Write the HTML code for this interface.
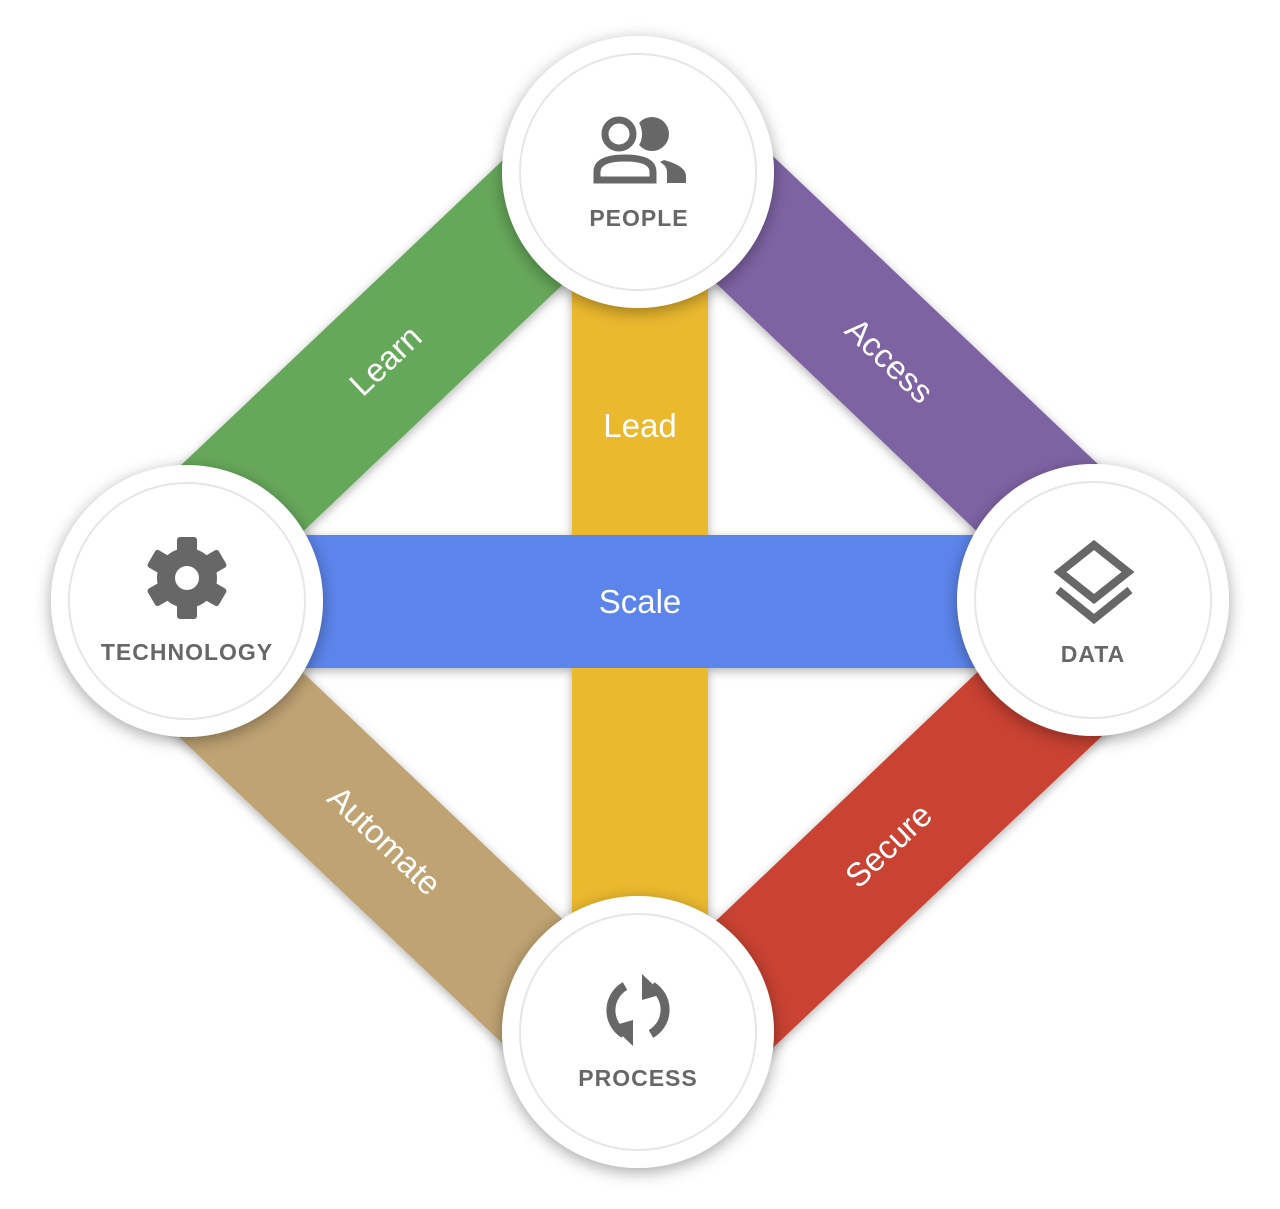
<!DOCTYPE html>
<html><head><style>
html,body{margin:0;padding:0;background:#fff;}
svg{display:block;}
text{font-family:"Liberation Sans",sans-serif;}
</style></head><body>
<svg width="1280" height="1209" viewBox="0 0 1280 1209" xmlns="http://www.w3.org/2000/svg">
<defs>
<filter id="sh" x="-30%" y="-30%" width="160%" height="160%">
<feDropShadow dx="0" dy="4" stdDeviation="8" flood-color="#000" flood-opacity="0.35"/>
</filter>
<filter id="sb" x="-30%" y="-30%" width="160%" height="160%">
<feDropShadow dx="0" dy="3" stdDeviation="5" flood-color="#000" flood-opacity="0.3"/>
</filter>
</defs>
<g filter="url(#sb)">
<polygon points="160,485 540,125 600,249 230,601" fill="#66a85a"/>
<polygon points="1120,485 740,125 680,249 1050,601" fill="#7e63a3"/>
<polygon points="160,719 540,1079 600,955 230,603" fill="#bfa373"/>
<polygon points="1120,719 740,1079 680,955 1050,603" fill="#c94233"/>
<rect x="572" y="250" width="136" height="700" fill="#ebb92e"/>
<rect x="260" y="535" width="760" height="133" fill="#5b85ec"/>
</g>
<g fill="#fff" font-size="33" text-anchor="middle">
<text x="385" y="372" transform="rotate(-43.5 385 360)">Learn</text>
<text x="890" y="372" transform="rotate(43.5 890 360)">Access</text>
<text x="385" y="852" transform="rotate(43.5 385 840)">Automate</text>
<text x="888" y="857" transform="rotate(-43.5 888 845)">Secure</text>
<text x="640" y="437">Lead</text>
<text x="640" y="613">Scale</text>
</g>
<g filter="url(#sh)" fill="#fff">
<circle cx="638" cy="172" r="136"/>
<circle cx="187" cy="601" r="136"/>
<circle cx="1093" cy="600" r="136"/>
<circle cx="638" cy="1032" r="136"/>
</g>
<g fill="none" stroke="#e6e6e6" stroke-width="2">
<circle cx="638" cy="172" r="118"/>
<circle cx="187" cy="601" r="118"/>
<circle cx="1093" cy="600" r="118"/>
<circle cx="638" cy="1032" r="118"/>
</g>
<g fill="#676767" font-size="23" font-weight="bold" text-anchor="middle" letter-spacing="1">
<text x="639" y="226">PEOPLE</text>
<text x="187" y="660">TECHNOLOGY</text>
<text x="1093" y="662">DATA</text>
<text x="638" y="1086">PROCESS</text>
</g>
<!-- people icon -->
<circle cx="652" cy="134" r="17" fill="#676767"/>
<circle cx="619" cy="134" r="23" fill="#fff"/>
<path d="M664,160 Q686,166 686,176 L686,183 L667,183 L667,172 Q667,166 660,162 Z" fill="#676767"/>
<g fill="none" stroke="#676767" stroke-width="7">
<circle cx="619" cy="134" r="14"/>
<path d="M597,180 L597,172 Q597,158 625,158 Q653,158 653,172 L653,180 Z"/>
</g>
<g transform="translate(187,578)" fill="#676767">
<rect x="-10" y="-41" width="20" height="18" rx="3"/>
<rect x="-10" y="-41" width="20" height="18" rx="3" transform="rotate(60)"/>
<rect x="-10" y="-41" width="20" height="18" rx="3" transform="rotate(120)"/>
<rect x="-10" y="-41" width="20" height="18" rx="3" transform="rotate(180)"/>
<rect x="-10" y="-41" width="20" height="18" rx="3" transform="rotate(240)"/>
<rect x="-10" y="-41" width="20" height="18" rx="3" transform="rotate(300)"/>
<circle r="30"/>
<circle r="12" fill="#fff"/>
</g>
<g fill="none" stroke="#676767" stroke-width="8">
<polygon points="1094,545 1128,572 1094,599 1060,572"/>
<polyline points="1058,590 1094,619 1130,590"/>
</g>
<g fill="none" stroke="#676767" stroke-width="9">
<path d="M625,986 A28,28 0 0 0 624,1034"/>
<path d="M651,1034 A28,28 0 0 0 652,986"/>
</g>
<g fill="#676767">
<polygon points="612,1026 633,1046 633,1020"/>
<polygon points="663,994 642,974 642,1000"/>
</g>
</svg>
</body></html>
